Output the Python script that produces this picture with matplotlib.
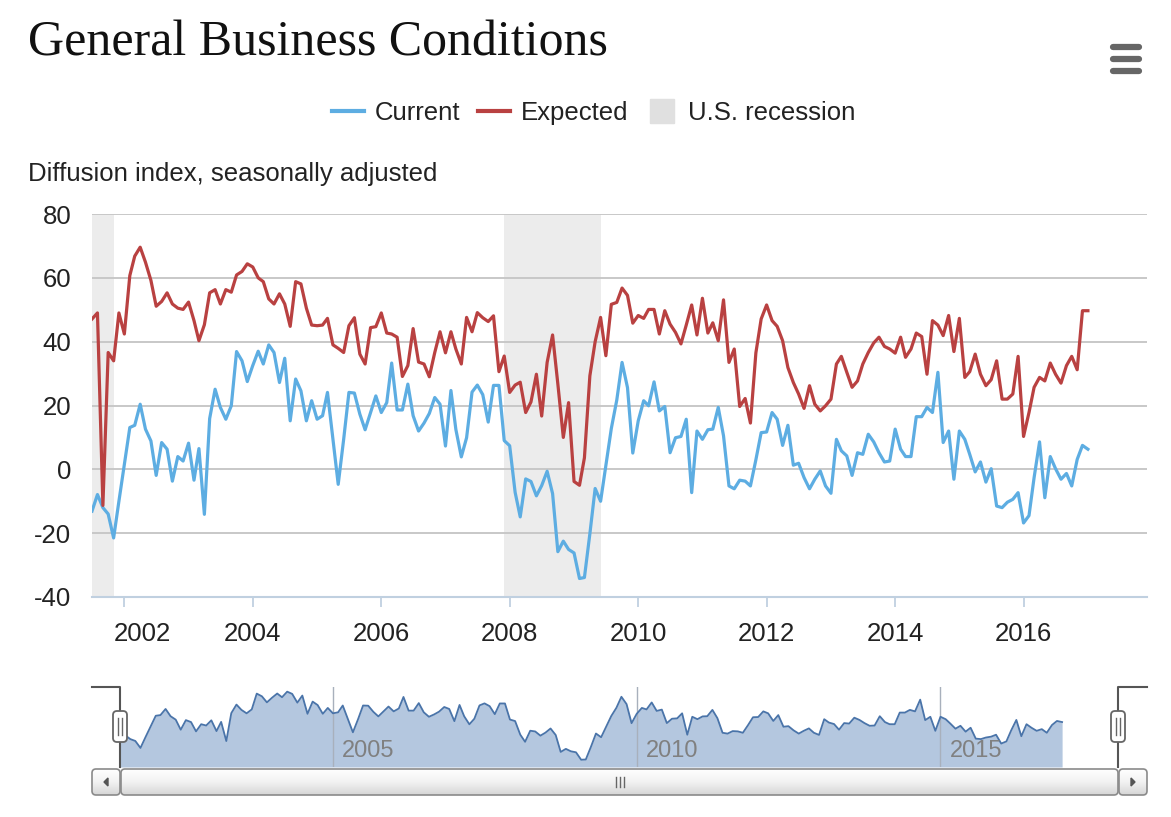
import matplotlib
matplotlib.use("Agg")
import matplotlib.pyplot as plt
import matplotlib.transforms as mtransforms
from matplotlib.colors import LinearSegmentedColormap
from matplotlib.lines import Line2D
from matplotlib.patches import FancyBboxPatch, Polygon
import numpy as np
import pandas as pd

# Empire State survey, general business conditions, monthly from Jul 2001
current = [
    -13.1, -7.9, -12.0, -14.0, -21.5, -10.0, 1.6, 13.1, 13.8, 20.4, 12.6, 8.9,
    -1.9, 8.4, 6.3, -3.7, 4.0, 2.6, 8.2, -3.4, 6.5, -14.1, 15.9, 25.1,
    19.4, 15.7, 19.9, 36.9, 34.0, 27.5, 32.5, 37.0, 33.0, 39.0, 36.6, 27.2,
    34.8, 15.2, 28.3, 24.6, 15.2, 21.5, 15.7, 16.8, 24.1, 9.4, -4.7, 9.4,
    24.1, 23.9, 17.3, 12.4, 17.8, 23.0, 17.8, 20.9, 33.3, 18.6, 18.6, 26.7,
    16.8, 12.0, 14.5, 17.5, 22.5, 20.4, 7.3, 24.7, 12.5, 3.9, 9.9, 24.2,
    26.4, 23.4, 14.8, 26.3, 26.3, 9.0, 7.4, -7.2, -14.9, -3.0, -3.8, -8.3,
    -5.1, -0.6, -7.6, -25.8, -22.5, -25.1, -26.2, -34.2, -33.9, -20.2, -6.0, -10.0,
    1.2, 12.8, 21.7, 33.5, 25.6, 5.1, 15.2, 21.5, 19.9, 27.4, 18.3, 19.7,
    5.2, 9.9, 10.3, 15.7, -7.3, 12.0, 9.4, 12.4, 12.6, 19.4, 10.5, -5.2,
    -6.1, -3.4, -3.7, -5.2, 3.0, 11.5, 11.7, 17.8, 15.7, 7.5, 13.8, 1.3,
    1.9, -2.6, -6.1, -3.1, -0.5, -5.2, -7.5, 9.4, 5.8, 4.2, -1.9, 5.2,
    4.7, 11.0, 8.6, 5.2, 2.3, 2.6, 12.6, 6.3, 4.0, 4.0, 16.5, 16.5,
    19.4, 17.8, 30.4, 8.4, 12.0, -3.1, 12.0, 9.4, 4.7, -0.8, 2.3, -4.0,
    0.2, -11.5, -12.0, -10.3, -9.4, -7.3, -16.8, -14.5, -2.6, 8.6, -8.9, 4.0,
    0.2, -3.1, -1.3, -5.2, 3.1, 7.5, 6.3,
]
expected = [
    47.1, 49.0, -11.3, 36.6, 34.0, 49.0, 42.4, 60.7, 66.8, 69.6, 64.9, 59.2,
    51.1, 52.6, 55.3, 51.8, 50.5, 50.1, 52.4, 46.6, 40.3, 45.3, 55.3, 56.3,
    51.8, 56.3, 55.5, 60.9, 62.0, 64.4, 63.4, 60.0, 58.8, 53.4, 51.8, 55.0,
    51.8, 44.8, 58.8, 58.1, 50.5, 45.2, 45.0, 45.2, 47.3, 39.0, 37.9, 36.6,
    45.0, 47.5, 36.1, 33.0, 44.4, 44.7, 49.0, 42.7, 42.4, 41.4, 29.1, 32.5,
    44.1, 33.6, 33.0, 29.0, 36.6, 43.1, 36.5, 43.1, 37.7, 33.0, 47.6, 43.1,
    49.1, 47.5, 46.3, 48.1, 30.6, 35.5, 24.1, 26.4, 27.3, 17.8, 21.1, 29.8,
    16.7, 33.5, 42.1, 26.7, 10.0, 20.9, -3.8, -5.0, 3.6, 29.3, 40.0, 47.6,
    35.6, 51.7, 52.3, 56.8, 54.5, 45.8, 48.2, 47.3, 50.1, 50.1, 42.4, 49.7,
    45.5, 42.9, 39.3, 45.2, 51.5, 42.1, 53.6, 42.7, 45.9, 40.3, 53.1, 33.5,
    37.7, 19.7, 22.2, 14.5, 36.5, 47.1, 51.5, 46.6, 44.8, 40.3, 31.9, 27.2,
    23.6, 19.1, 26.2, 20.4, 18.3, 19.9, 22.0, 33.0, 35.4, 30.4, 25.7, 27.7,
    33.0, 36.6, 39.6, 41.4, 38.5, 37.7, 36.4, 41.4, 35.1, 37.7, 42.7, 41.6,
    29.8, 46.6, 45.2, 41.9, 48.2, 36.9, 47.3, 28.8, 30.6, 36.1, 29.8, 26.2,
    28.1, 34.0, 22.0, 22.0, 23.6, 35.4, 10.3, 17.8, 25.7, 28.8, 27.7, 33.3,
    29.8, 27.0, 32.5, 35.4, 31.2, 49.7, 49.7,
]
recessions = [("2001-03-01", "2001-11-01"), ("2007-12-01", "2009-06-01")]
year_ticks = [2002, 2004, 2006, 2008, 2010, 2012, 2014, 2016]
nav_years = [2005, 2010, 2015]

months = pd.date_range("2001-07-01", periods=len(current), freq="MS")
x_range = (pd.Timestamp("2001-07-01"), pd.Timestamp("2017-12-03"))

BLUE = "#5dade2"
RED = "#b94141"
W, H = 1171, 817

plt.rcParams["font.family"] = ["Liberation Sans", "DejaVu Sans"]
plt.rcParams["axes.unicode_minus"] = False


def fx(px):
    return px / W


def fy(py):
    return 1 - py / H


fig = plt.figure(figsize=(W / 100, H / 100), dpi=100)
fig.patch.set_facecolor("white")

# main chart
ax = fig.add_axes([fx(92), fy(597), (1147 - 92) / W, (597 - 214) / H])
for start, end in recessions:
    ax.axvspan(pd.Timestamp(start), pd.Timestamp(end), color="#ececec", lw=0, zorder=0)
ax.plot(months, current, color=BLUE, lw=2.3, zorder=3, solid_joinstyle="round")
ax.plot(months, expected, color=RED, lw=2.3, zorder=3, solid_joinstyle="round")

ax.set_xlim(*x_range)
ax.set_ylim(-40, 80)
ax.set_yticks(range(-40, 81, 20))
ax.grid(axis="y", color="#c8c8c8", lw=1.4)
ax.set_axisbelow(True)
for side in ["top", "right", "left"]:
    ax.spines[side].set_visible(False)
ax.spines["bottom"].set_color("#c0d0e0")
ax.spines["bottom"].set_linewidth(1.5)

ax.set_xticks([pd.Timestamp(f"{y}-01-01") for y in year_ticks])
ax.set_xticklabels([str(y) for y in year_ticks])
ax.tick_params(axis="x", length=7, width=1.3, color="#c0d0e0", pad=11,
               labelsize=18.5, labelcolor="#222222")
ax.tick_params(axis="y", length=0, pad=15, labelsize=18.5, labelcolor="#222222")
# first label is pushed right so it does not hang past the plot edge
first = ax.get_xticklabels()[0]
first.set_transform(first.get_transform()
                    + mtransforms.ScaledTranslation(0.18, 0, fig.dpi_scale_trans))

fig.text(fx(28), fy(43), "General Business Conditions", family="Liberation Serif",
         fontsize=36, va="center", ha="left", color="#111111")
fig.text(fx(28), fy(174), "Diffusion index, seasonally adjusted", fontsize=18.5,
         va="center", ha="left", color="#222222")

handles = [
    Line2D([], [], color=BLUE, lw=3),
    Line2D([], [], color=RED, lw=3),
    Line2D([], [], marker="s", ls="none", color="#e0e0e0", markersize=17),
]
fig.legend(handles, ["Current", "Expected", "U.S. recession"], loc="center",
           bbox_to_anchor=(fx(594), fy(113)), ncol=3, frameon=False, fontsize=18.5,
           handlelength=1.25, handletextpad=0.4, columnspacing=0.7,
           labelcolor="#222222")

# navigator
nav = fig.add_axes([fx(120), fy(767), (1118 - 120) / W, 80 / H])
nav.fill_between(months, current, -42, color="#b4c7df", lw=0, zorder=1)
nav.plot(months, current, color="#4a74a9", lw=1.3, zorder=3)
nav.set_xlim(*x_range)
nav.set_ylim(-42, 44)
nav.axis("off")
lab_tr = mtransforms.blended_transform_factory(nav.transData, nav.transAxes) \
    + mtransforms.ScaledTranslation(0.09, 0, fig.dpi_scale_trans)
for y in nav_years:
    d = pd.Timestamp(f"{y}-01-01")
    nav.axvline(d, color="#a8b0bc", lw=1, zorder=2)
    nav.text(d, 0.06, str(y), transform=lab_tr, fontsize=17, color="#808080",
             ha="left", va="bottom", zorder=4)

# overlay in pixel units for the scrollbar, handles and menu icon
ov = fig.add_axes([0, 0, 1, 1])
ov.axis("off")
ov.patch.set_alpha(0)

bar_cmap = LinearSegmentedColormap.from_list("bar", ["#ffffff", "#f2f2f2", "#d6d6d6"])
grad = np.linspace(0, 1, 64).reshape(-1, 1)
for x0, x1 in [(92, 120), (121, 1118), (1119, 1147)]:
    box = FancyBboxPatch((x0, 769), x1 - x0, 26, boxstyle="round,pad=0,rounding_size=4",
                         facecolor="none", edgecolor="#8a8a8a", lw=1.2, zorder=5)
    ov.add_patch(box)
    im = ov.imshow(grad, cmap=bar_cmap, extent=(x0, x1, 795, 769),
                   aspect="auto", zorder=4)
    im.set_clip_path(box)
ov.set_xlim(0, W)
ov.set_ylim(H, 0)
ov.add_patch(Polygon([[108, 778], [108, 786], [104, 782]], closed=True, color="#555555", zorder=6))
ov.add_patch(Polygon([[1131, 778], [1131, 786], [1135, 782]], closed=True, color="#555555", zorder=6))
for gx in (616, 620, 624):
    ov.plot([gx, gx], [777, 787], color="#666666", lw=1, zorder=6)

# navigator outline and handles
ov.plot([92, 120, 120], [687, 687, 767], color="#555555", lw=1.5, zorder=6)
ov.plot([1147, 1118, 1118], [687, 687, 767], color="#555555", lw=1.5, zorder=6)
for hx in (120, 1118):
    ov.add_patch(FancyBboxPatch((hx - 7, 711), 14, 31, boxstyle="round,pad=0,rounding_size=4",
                                facecolor="white", edgecolor="#666666", lw=1.3, zorder=7))
    for lx in (hx - 2, hx + 2):
        ov.plot([lx, lx], [718, 735], color="#666666", lw=1, zorder=8)

# menu icon
for my in (47, 59, 71):
    ov.plot([1113, 1139], [my, my], color="#666666", lw=4.5, solid_capstyle="round", zorder=6)
ov.set_xlim(0, W)
ov.set_ylim(H, 0)

fig.savefig("out.png", dpi=100, facecolor="white")
